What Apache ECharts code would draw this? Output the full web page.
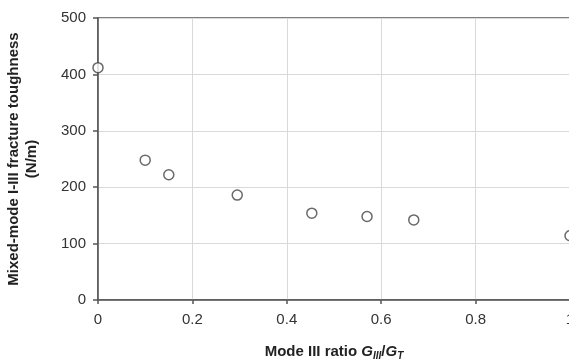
<!DOCTYPE html>
<html>
<head>
<meta charset="utf-8">
<script src="https://cdn.jsdelivr.net/npm/echarts@6/dist/echarts.min.js"></script>
<style>
  html, body { margin: 0; padding: 0; background: #fff; }
  #chart { width: 569px; height: 362px; }
</style>
</head>
<body>
<div id="chart"></div>
<script>
// Mode III ratio G_III/G_T for each test
const modeRatio = [0, 0.10, 0.15, 0.295, 0.453, 0.570, 0.669, 1.0];
// Mixed-mode I-III fracture toughness (N/m)
const toughness = [412, 248, 222, 186, 154, 148, 142, 114];
const xTicks = [0, 0.2, 0.4, 0.6, 0.8, 1];
const yTicks = [0, 100, 200, 300, 400, 500];

const FONT = '"Liberation Sans", Arial, sans-serif';
const points = modeRatio.map((x, i) => [x, toughness[i]]);

const chart = echarts.init(document.getElementById('chart'), null, { renderer: 'canvas' });
chart.setOption({
  animation: false,
  backgroundColor: '#fff',
  grid: {
    left: 98, top: 18, width: 472, height: 282,
    show: true, borderColor: '#555', borderWidth: 1.5,
    outerBoundsMode: 'none', containLabel: false
  },
  xAxis: {
    type: 'value',
    min: xTicks[0], max: xTicks[xTicks.length - 1], interval: 0.2,
    axisLine: { lineStyle: { color: '#555', width: 1.5 } },
    axisTick: { show: true, length: 4, lineStyle: { color: '#555', width: 1.5 } },
    axisLabel: { color: '#333', fontSize: 15, fontFamily: FONT, margin: 12,
      formatter: v => String(Math.round(v * 10) / 10) },
    splitLine: { show: true, lineStyle: { color: '#d9d9d9', width: 1 } },
    name: '{t|Mode III ratio }{i|G}{s|III}{t|/}{i|G}{s|T}',
    nameLocation: 'middle',
    nameGap: 43,
    nameTextStyle: {
      rich: {
        t: { fontFamily: FONT, fontWeight: 'bold', fontSize: 15, color: '#222' },
        i: { fontFamily: FONT, fontWeight: 'bold', fontStyle: 'italic', fontSize: 15, color: '#222' },
        s: { fontFamily: FONT, fontWeight: 'bold', fontStyle: 'italic', fontSize: 10, color: '#222', padding: [8, 0, 0, 0] }
      }
    }
  },
  yAxis: {
    type: 'value',
    min: yTicks[0], max: yTicks[yTicks.length - 1], interval: 100,
    axisLine: { show: true, lineStyle: { color: '#555', width: 1.5 } },
    axisTick: { show: true, length: 5, lineStyle: { color: '#555', width: 1.5 } },
    axisLabel: { color: '#333', fontSize: 15, fontFamily: FONT, margin: 12 },
    splitLine: { show: true, lineStyle: { color: '#d9d9d9', width: 1 } },
    name: 'Mixed-mode I-III fracture toughness\n(N/m)',
    nameLocation: 'middle',
    nameGap: 57,
    nameTextStyle: { fontFamily: FONT, fontWeight: 'bold', fontSize: 15, color: '#222', lineHeight: 18 }
  },
  series: [{
    type: 'scatter',
    data: points,
    symbol: 'circle',
    symbolSize: 10,
    clip: false,
    itemStyle: { color: '#fff', borderColor: '#444', borderWidth: 1.5 }
  }]
});
</script>
</body>
</html>
